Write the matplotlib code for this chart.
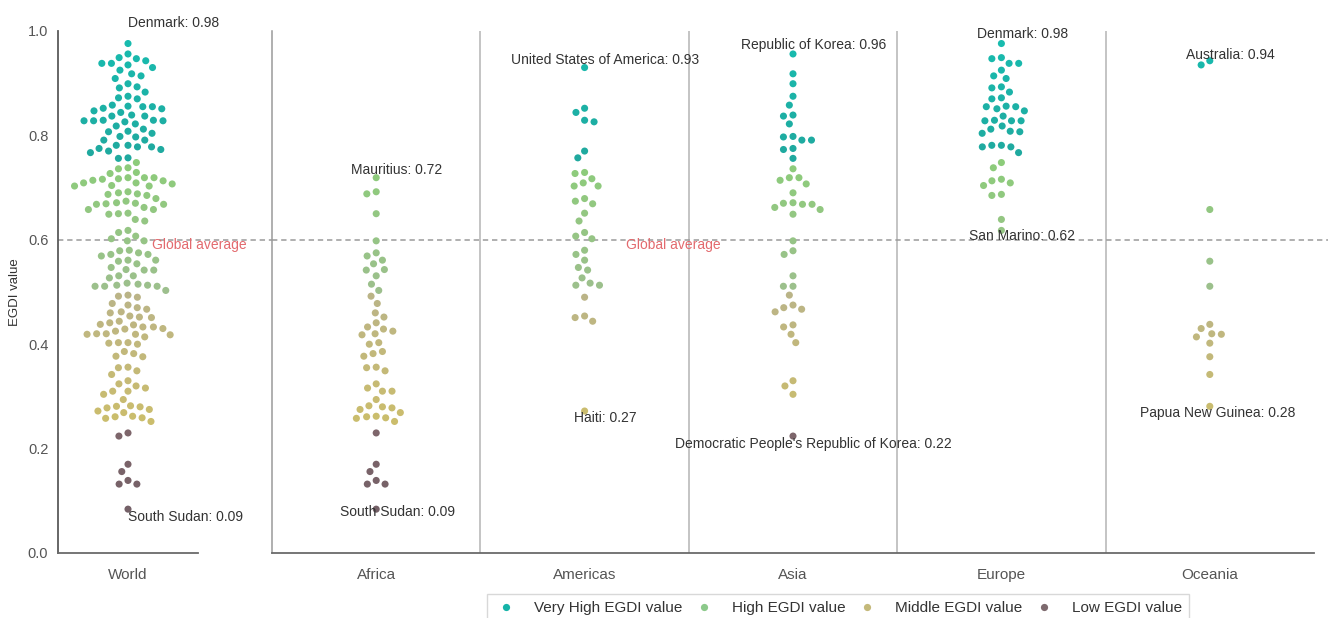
"""EGDI value swarm chart: world and regional distribution."""

import numpy as np
import matplotlib

matplotlib.use("Agg")
from matplotlib import pyplot as plt  # noqa: E402
from matplotlib.colors import to_rgb  # noqa: E402
from matplotlib.lines import Line2D  # noqa: E402

plt.rcParams["font.family"] = ["Liberation Sans", "DejaVu Sans"]

# --- data (EGDI values) ---------------------------------------------------
regions = ["Africa", "Americas", "Asia", "Europe", "Oceania"]

africa = [
    0.719, 0.692, 0.688, 0.650, 0.598, 0.575, 0.569, 0.561, 0.554, 0.543,
    0.542, 0.531, 0.515, 0.503,
    0.492, 0.478, 0.460, 0.452, 0.441, 0.433, 0.429, 0.425, 0.420, 0.418,
    0.403, 0.400, 0.386, 0.382, 0.377, 0.356, 0.355, 0.349, 0.324, 0.316,
    0.310, 0.310, 0.294, 0.282, 0.280, 0.278, 0.275, 0.269, 0.262, 0.261,
    0.259, 0.258, 0.252,
    0.230, 0.170, 0.156, 0.139, 0.132, 0.132, 0.084,
]
americas = [
    0.930, 0.852, 0.844, 0.829, 0.826, 0.770, 0.757,
    0.729, 0.727, 0.717, 0.709, 0.703, 0.703, 0.679, 0.674, 0.669, 0.651,
    0.636, 0.614, 0.607, 0.602, 0.580, 0.572, 0.561, 0.547, 0.542, 0.527,
    0.517, 0.513, 0.513,
    0.490, 0.454, 0.451, 0.444, 0.272,
]
asia = [
    0.956, 0.918, 0.899, 0.875, 0.858, 0.839, 0.837, 0.822, 0.798, 0.797,
    0.791, 0.791, 0.775, 0.773, 0.756,
    0.736, 0.719, 0.719, 0.714, 0.707, 0.690, 0.671, 0.670, 0.668, 0.668,
    0.662, 0.658, 0.649, 0.598, 0.579, 0.572, 0.531, 0.511, 0.511,
    0.494, 0.475, 0.470, 0.467, 0.462, 0.437, 0.433, 0.419, 0.403, 0.330,
    0.320, 0.304,
    0.224,
]
europe = [
    0.976, 0.949, 0.947, 0.938, 0.938, 0.925, 0.914, 0.909, 0.893, 0.891,
    0.883, 0.872, 0.870, 0.856, 0.855, 0.855, 0.851, 0.847, 0.837, 0.829,
    0.828, 0.828, 0.828, 0.818, 0.812, 0.808, 0.807, 0.804, 0.781, 0.781,
    0.778, 0.778, 0.767,
    0.748, 0.738, 0.716, 0.713, 0.709, 0.704, 0.687, 0.685, 0.639, 0.618,
]
oceania = [
    0.943, 0.935, 0.658, 0.559, 0.511,
    0.438, 0.430, 0.420, 0.419, 0.414, 0.402, 0.376, 0.342, 0.281,
]
region_values = [africa, americas, asia, europe, oceania]
world = [v for values in region_values for v in values]

world_notes = [("Denmark: 0.98", 0.98), ("South Sudan: 0.09", 0.09)]
region_notes = [
    [("Mauritius: 0.72", 0.72), ("South Sudan: 0.09", 0.09)],
    [("United States of America: 0.93", 0.93), ("Haiti: 0.27", 0.27)],
    [("Republic of Korea: 0.96", 0.96),
     ("Democratic People's Republic of Korea: 0.22", 0.22)],
    [("Denmark: 0.98", 0.98), ("San Marino: 0.62", 0.62)],
    [("Australia: 0.94", 0.94), ("Papua New Guinea: 0.28", 0.28)],
]

GLOBAL_AVERAGE = 0.6
legend_labels = [
    "Very High EGDI value", "High EGDI value",
    "Middle EGDI value", "Low EGDI value",
]

# --- styling -----------------------------------------------------------------
W, H, DPI = 1328, 618, 100
PX_PER_UNIT_X = 208.4
PX_PER_UNIT_Y = 522.0
GAP_PX = 9.6
DOT_S = 26

# (threshold, color at low end, color at high end)
CLASSES = [
    (0.75, "#20a89e", "#17bdb0"),
    (0.50, "#9dbf8d", "#8ccc7a"),
    (0.25, "#cbbd6c", "#bab488"),
    (0.00, "#6f5c64", "#7f676c"),
]
LEGEND_COLORS = ["#15b3a8", "#8cc98a", "#c4b97a", "#7d6a6e"]
TEXT_COLOR = "#333333"
TICK_COLOR = "#555555"


def _color(value):
    bounds = [1.0, 0.75, 0.5, 0.25, 0.0]
    for i, (low, c_lo, c_hi) in enumerate(CLASSES):
        if value >= low:
            t = (value - low) / (bounds[i] - low)
            a, b = np.array(to_rgb(c_lo)), np.array(to_rgb(c_hi))
            return tuple(a + (b - a) * min(max(t, 0.0), 1.0))
    return CLASSES[-1][1]


def _swarm(values):
    """Beeswarm offsets (data units) for a list of values."""
    vals = np.asarray(values, dtype=float)
    order = np.argsort(-vals, kind="stable")
    placed = []
    offsets = np.zeros(len(vals))
    for idx in order:
        y = vals[idx] * PX_PER_UNIT_Y
        near = [(px, py) for px, py in placed if abs(py - y) < GAP_PX]
        cands = [0.0]
        for px, py in near:
            dx = np.sqrt(GAP_PX ** 2 - (py - y) ** 2)
            cands += [px + dx, px - dx]
        cands.sort(key=lambda c: (round(abs(c), 6), c))
        for c in cands:
            if all((c - px) ** 2 + (y - py) ** 2 >= GAP_PX ** 2 - 1e-6
                   for px, py in near):
                break
        offsets[idx] = c
        placed.append((c, y))
    return offsets / PX_PER_UNIT_X


def _draw_swarm(ax, center, values):
    xs = center + _swarm(values)
    colors = [_color(v) for v in values]
    ax.scatter(xs, values, s=DOT_S, c=colors, linewidths=0, zorder=3)


fig = plt.figure(figsize=(W / DPI, H / DPI), dpi=DPI)

bottom = (H - 553) / H
height = 522 / H
ax_w = fig.add_axes([58 / W, bottom, 214 / W, height])
ax_r = fig.add_axes([272 / W, bottom, 1042 / W, height])

# world panel
left_x = -70 / PX_PER_UNIT_X
ax_w.set_xlim(left_x, left_x + 214 / PX_PER_UNIT_X)
ax_w.set_ylim(0, 1.0)
_draw_swarm(ax_w, 0.0, world)
ax_w.axhline(GLOBAL_AVERAGE, color="#9a9a9a", lw=1.1, ls=(0, (3.5, 2.5)),
             zorder=1)
ax_w.text(0.115, 0.59, "Global average", color="#e36a6e", fontsize=10,
          va="center", ha="left")
ax_w.text(0.0, 1.015, world_notes[0][0], fontsize=10, color=TEXT_COLOR,
          ha="left", va="center", clip_on=False)
ax_w.text(0.0, 0.069, world_notes[1][0], fontsize=10, color=TEXT_COLOR,
          ha="left", va="center")
for side in ("top", "right"):
    ax_w.spines[side].set_visible(False)
ax_w.spines["left"].set_color("#5a5a5a")
ax_w.spines["left"].set_linewidth(1.3)
ax_w.spines["bottom"].set_color("#6a6a6a")
ax_w.spines["bottom"].set_linewidth(1.3)
ax_w.spines["bottom"].set_bounds(left_x, -left_x)
ax_w.set_xticks([0.0])
ax_w.set_xticklabels(["World"])
ax_w.set_yticks(np.arange(0, 1.01, 0.2))
ax_w.set_yticklabels([f"{t:.1f}" for t in np.arange(0, 1.01, 0.2)])
ax_w.tick_params(length=0, labelsize=10.5, colors=TICK_COLOR)
ax_w.tick_params(axis="x", labelsize=11, pad=11)
ax_w.tick_params(axis="y", pad=7)
ax_w.set_ylabel("EGDI value", fontsize=9.5, color=TEXT_COLOR, labelpad=5)

# regional panel
ax_r.set_xlim(-0.5, len(regions) - 0.5)
ax_r.set_ylim(0, 1.0)
for i, values in enumerate(region_values):
    _draw_swarm(ax_r, i, values)
for i in range(len(regions) - 1):
    ax_r.axvline(i + 0.5, color="#b4b4b4", lw=1.1, zorder=1)
ax_r.plot([-0.5, len(regions) - 0.43], [GLOBAL_AVERAGE] * 2,
          color="#9a9a9a", lw=1.1, ls=(0, (3.5, 2.5)), zorder=1,
          clip_on=False)
ax_r.text(1.2, 0.59, "Global average", color="#e36a6e", fontsize=10,
          va="center", ha="left")

note_dx = [0.1, 0.1, 0.1, 0.1, 0.1]
low_dx = [0.1, 0.1, 0.1, 0.1, 0.04]
for i, (top_note, low_note) in enumerate(region_notes):
    ax_r.text(i + note_dx[i], top_note[1] + 0.014, top_note[0], fontsize=10,
              color=TEXT_COLOR, ha="center", va="center", clip_on=False,
              zorder=4)
    ax_r.text(i + low_dx[i], low_note[1] - 0.012, low_note[0], fontsize=10,
              color=TEXT_COLOR, ha="center", va="center", zorder=4)

for side in ("top", "right"):
    ax_r.spines[side].set_visible(False)
ax_r.spines["left"].set_color("#9a9a9a")
ax_r.spines["left"].set_linewidth(1.1)
ax_r.spines["bottom"].set_color("#6a6a6a")
ax_r.spines["bottom"].set_linewidth(1.3)
ax_r.set_xticks(range(len(regions)))
ax_r.set_xticklabels(regions)
ax_r.set_yticks([])
ax_r.tick_params(length=0, labelsize=11, colors=TICK_COLOR, pad=11)

handles = [
    Line2D([], [], marker="o", ls="none", markersize=5.2,
           markerfacecolor=c, markeredgewidth=0)
    for c in LEGEND_COLORS
]
fig.legend(handles, legend_labels, ncol=4, loc="upper left",
           bbox_to_anchor=(487 / W, (H - 594) / H), borderaxespad=0,
           fontsize=11, frameon=True, fancybox=False, edgecolor="#cfcfcf",
           handlelength=1.6, handletextpad=1.0, columnspacing=0.65,
           borderpad=0.45, labelcolor=TEXT_COLOR)

fig.savefig("out.png", dpi=DPI)
